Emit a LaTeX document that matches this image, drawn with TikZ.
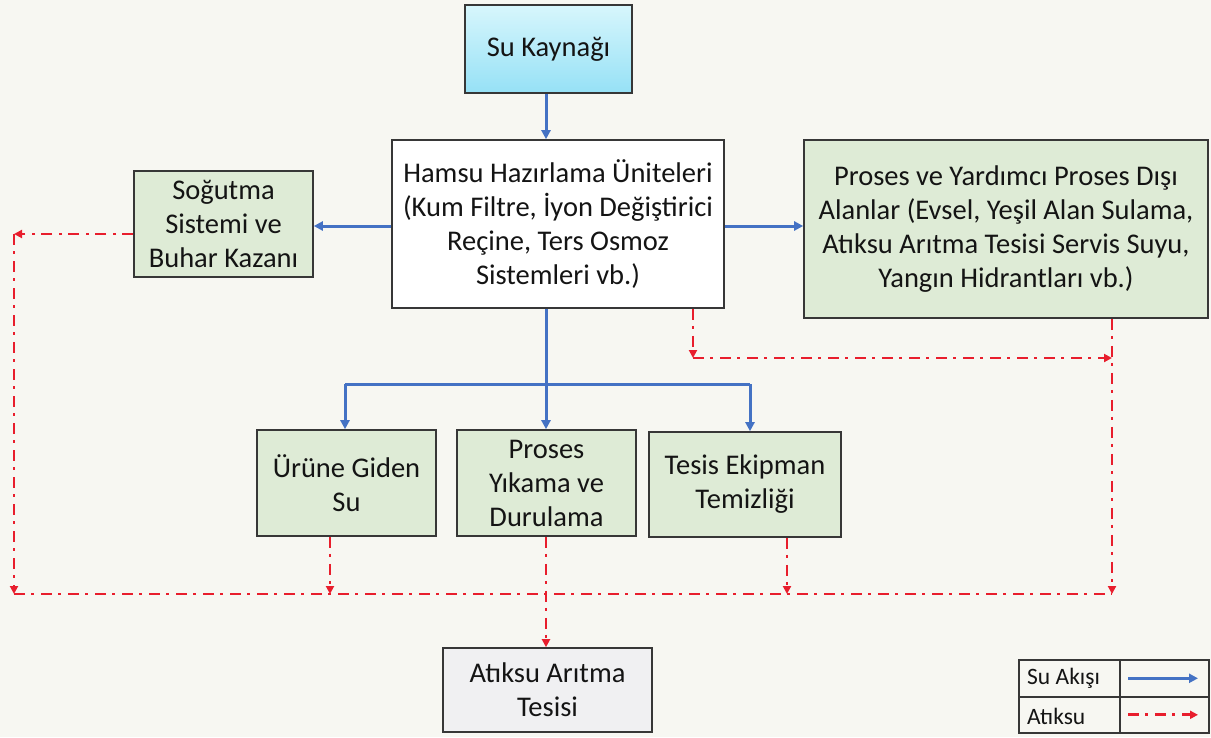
\documentclass[tikz,border=0pt]{standalone}
\usepackage{fontspec}
\setmainfont{Carlito}
\usetikzlibrary{arrows.meta}
\definecolor{bgc}{RGB}{247,247,242}
\definecolor{txt}{RGB}{20,20,20}
\definecolor{edge}{RGB}{55,55,55}
\definecolor{grn}{RGB}{222,235,214}
\definecolor{gry}{RGB}{240,240,242}
\definecolor{bluef}{RGB}{68,114,196}
\definecolor{redf}{RGB}{232,30,45}
\definecolor{cyt}{RGB}{215,246,252}
\definecolor{cyb}{RGB}{150,225,246}
\tikzset{
  box/.style={draw=edge, line width=1.6pt, inner sep=0pt, align=center, text=txt,
     font=\fontsize{28.5}{34}\selectfont},
  gbox/.style={box, fill=grn},
  water/.style={draw=bluef, line width=3pt, -{Triangle[length=9pt,width=9pt]}},
  waterl/.style={draw=bluef, line width=3pt},
  waste/.style={draw=redf, line width=2.8pt, dash pattern=on 11pt off 6pt on 3pt off 7pt, -{Triangle[length=8pt,width=8pt]}},
  wastel/.style={draw=redf, line width=2.8pt, dash pattern=on 11pt off 6pt on 3pt off 7pt},
  leg/.style={draw=edge, line width=1.6pt, inner sep=0pt},
  legt/.style={text=txt, inner sep=0pt, font=\fontsize{23.5}{27}\selectfont}
}
\begin{document}
\begin{tikzpicture}[x=1pt,y=-1pt]
\fill[bgc] (0,0) rectangle (1211,737);
\useasboundingbox (0,0) rectangle (1211,737);

% boxes
\node[box, top color=cyt, bottom color=cyb, minimum width=167pt, minimum height=88pt] (sk) at (548.5,49) {Su Kaynağı};
\node[box, fill=white, minimum width=332pt, minimum height=168pt] (hm) at (558,224)
  {Hamsu Hazırlama Üniteleri\\(Kum Filtre, İyon Değiştirici\\Reçine, Ters Osmoz\\Sistemleri vb.)};
\node[gbox, minimum width=179pt, minimum height=106pt] (sg) at (223.5,224) {Soğutma\\Sistemi ve\\Buhar Kazanı};
\node[gbox, minimum width=404pt, minimum height=178pt] (py) at (1006,229)
  {Proses ve Yardımcı Proses Dışı\\Alanlar (Evsel, Yeşil Alan Sulama,\\Atıksu Arıtma Tesisi Servis Suyu,\\Yangın Hidrantları vb.)};
\node[gbox, minimum width=179pt, minimum height=106pt] (ur) at (346.5,483) {Ürüne Giden\\Su};
\node[gbox, minimum width=179pt, minimum height=106pt] (yk) at (546.5,483) {Proses\\Yıkama ve\\Durulama};
\node[gbox, minimum width=192pt, minimum height=105pt] (te) at (745,484.5) {Tesis Ekipman\\Temizliği};
\node[box, fill=gry, minimum width=209pt, minimum height=84pt] (at) at (547.5,690) {Atıksu Arıtma\\Tesisi};

% coordinates
\coordinate (xa) at (546,0);
\coordinate (bj) at (546,384);
\coordinate (bl) at (345,384);
\coordinate (br) at (750,384);
\coordinate (cl) at (14,234);
\coordinate (dl) at (14,594);
\coordinate (dr) at (1112,594);
\coordinate (ml) at (693,358);
\coordinate (mr) at (1112,358);
\coordinate (x1) at (330,594);
\coordinate (x2) at (546,594);
\coordinate (x3) at (787,594);

% water flows
\draw[water] (sk.south -| xa) -- (hm.north -| xa);
\draw[water] (hm.west |- 0,226) -- (sg.east |- 0,226);
\draw[water] (hm.east |- 0,226) -- (py.west |- 0,226);
\draw[waterl] (hm.south -| xa) -- (bj);
\draw[waterl] (bl) -- (br);
\draw[water] (bl) -- (ur.north -| bl);
\draw[water] (bj) -- (yk.north -| bj);
\draw[water] (br) -- (te.north -| br);

% waste flows
\draw[waste] (sg.west |- cl) -- (cl);
\draw[waste] (cl) -- (dl);
\draw[wastel] (dl) -- (dr);
\draw[waste] (hm.south -| ml) -- (ml);
\draw[waste] (ml) -- (mr);
\draw[waste] (py.south -| dr) -- (dr);
\draw[waste] (ur.south -| x1) -- (x1);
\draw[waste] (te.south -| x3) -- (x3);
\draw[waste] (yk.south -| x2) -- (at.north -| x2);

% legend
\node[leg, minimum width=101pt, minimum height=37pt, anchor=north west] (l1) at (1018,659) {};
\node[leg, minimum width=101pt, minimum height=36pt, anchor=north west] (l2) at (1018,696) {};
\node[leg, minimum width=89pt, minimum height=37pt, anchor=north west] (l3) at (1119,659) {};
\node[leg, minimum width=89pt, minimum height=36pt, anchor=north west] (l4) at (1119,696) {};
\node[legt, anchor=west] (t1) at (1027,678) {Su Akışı};
\node[legt, anchor=west] (t2) at (1027,716) {Atıksu};
\coordinate (la) at (1128,0);
\coordinate (lb) at (1198,0);
\draw[water] (l3.center -| la) -- (l3.center -| lb);
\draw[waste] (l4.center -| la) -- (l4.center -| lb);
\end{tikzpicture}
\end{document}
